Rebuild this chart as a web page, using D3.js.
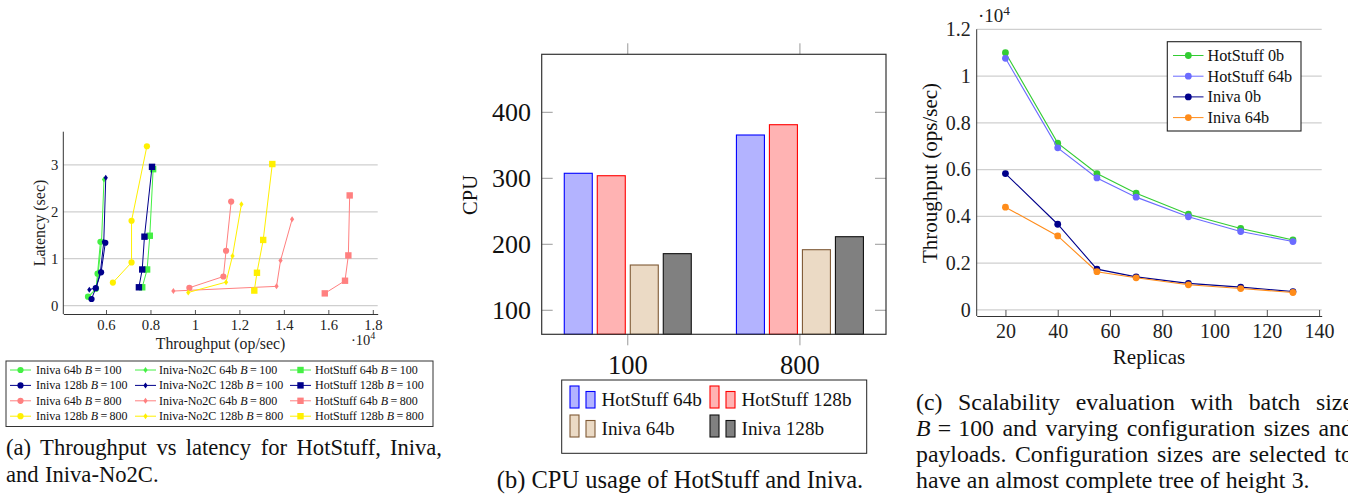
<!DOCTYPE html>
<html>
<head>
<meta charset="utf-8">
<script src="https://cdn.jsdelivr.net/npm/d3@7"></script>
<style>
  body { margin: 0; background: #fff; }
  svg { display: block; }
  text { font-family: "Liberation Serif", "Times New Roman", "DejaVu Serif", serif; }
</style>
</head>
<body>
<svg id="fig" width="1348" height="495"></svg>
<script>
// ---- (a) throughput vs latency, throughput in 10^4 op/sec, latency in sec
const iniva64_100    = [[0.519,0.19],[0.555,0.36],[0.562,0.68],[0.575,1.36]];
const no2c64_100     = [[0.522,0.18],[0.558,0.37],[0.565,0.70],[0.580,1.37],[0.591,2.69]];
const hot64_100      = [[0.763,0.39],[0.785,0.77],[0.797,1.49],[0.812,2.91]];
const iniva128_100   = [[0.535,0.14],[0.554,0.37],[0.578,0.71],[0.597,1.34]];
const no2c128_100    = [[0.525,0.34],[0.556,0.38],[0.575,0.72],[0.590,1.36],[0.599,2.73]];
const hot128_100     = [[0.748,0.39],[0.763,0.77],[0.773,1.47],[0.807,2.96]];
const iniva64_800    = [[0.975,0.38],[1.128,0.62],[1.140,1.17],[1.163,2.22]];
const no2c64_800     = [[0.903,0.31],[1.367,0.41],[1.385,0.96],[1.437,1.84]];
const hot64_800      = [[1.584,0.26],[1.675,0.53],[1.690,1.07],[1.696,2.35]];
const iniva128_800   = [[0.631,0.49],[0.715,0.92],[0.715,1.81],[0.784,3.40]];
const no2c128_800    = [[0.970,0.28],[1.140,0.50],[1.169,1.06],[1.209,2.16]];
const hot128_800     = [[1.267,0.32],[1.279,0.70],[1.307,1.40],[1.348,3.02]];
const latNames  = ["Iniva 64b", "Iniva-No2C 64b", "HotStuff 64b",
                   "Iniva 128b", "Iniva-No2C 128b", "HotStuff 128b",
                   "Iniva 64b", "Iniva-No2C 64b", "HotStuff 64b",
                   "Iniva 128b", "Iniva-No2C 128b", "HotStuff 128b"];
const latBatch  = [100,100,100,100,100,100,800,800,800,800,800,800];
const latData   = [iniva64_100, no2c64_100, hot64_100, iniva128_100, no2c128_100, hot128_100,
                   iniva64_800, no2c64_800, hot64_800, iniva128_800, no2c128_800, hot128_800];
const latXTicks = [0.6, 0.8, 1, 1.2, 1.4, 1.6, 1.8];
const latYTicks = [0, 1, 2, 3];

// ---- (b) CPU usage
const cpuGroups = ["100", "800"];
const cpuSeries = ["HotStuff 64b", "HotStuff 128b", "Iniva 64b", "Iniva 128b"];
const cpu100    = [307.6, 303.9, 168.6, 185.8];
const cpu800    = [365.6, 381.2, 191.8, 211.5];
const cpuYTicks = [100, 200, 300, 400];

// ---- (c) scalability
const replicas   = [20, 40, 55, 70, 90, 110, 130];
const hot0b      = [1.100, 0.713, 0.583, 0.499, 0.409, 0.348, 0.299];
const hot64b     = [1.076, 0.693, 0.564, 0.482, 0.398, 0.335, 0.292];
const iniva0b    = [0.583, 0.366, 0.174, 0.141, 0.113, 0.097, 0.078];
const iniva64b   = [0.439, 0.316, 0.163, 0.137, 0.107, 0.091, 0.074];
const scaleNames = ["HotStuff 0b", "HotStuff 64b", "Iniva 0b", "Iniva 64b"];
const scaleXTicks = [20, 40, 60, 80, 100, 120, 140];
const scaleYTicks = [0, 0.2, 0.4, 0.6, 0.8, 1, 1.2];

const svg = d3.select("#fig");
svg.append("rect").attr("width", 1348).attr("height", 495).attr("fill", "white");

const gridCol = "#cfcfcf", axisCol = "#333";

function marker(g, shape, x, y, col, s) {
  if (shape === "circle") {
    g.append("circle").attr("cx", x).attr("cy", y).attr("r", s).attr("fill", col);
  } else if (shape === "square") {
    g.append("rect").attr("x", x - s).attr("y", y - s).attr("width", 2 * s).attr("height", 2 * s).attr("fill", col);
  } else {
    g.append("path").attr("d", `M${x},${y - s}L${x + s * 0.7},${y}L${x},${y + s}L${x - s * 0.7},${y}Z`).attr("fill", col);
  }
}

function tenPow(g, x, y, size) {
  const t = g.append("text").attr("x", x).attr("y", y).attr("font-size", size).attr("fill", "#222");
  t.append("tspan").text("\u00b710");
  t.append("tspan").attr("dy", -size * 0.38).attr("font-size", size * 0.7).text("4");
}

// justified line of words (each word: array of [text, italic, dx in em])
function justifyLine(g, words, x0, x1, y, size, justify) {
  const nodes = words.map(w => {
    const t = g.append("text").attr("y", y).attr("font-size", size).attr("fill", "#111");
    w.forEach(p => t.append("tspan").attr("font-style", p[1] ? "italic" : "normal")
      .attr("dx", p[2] ? p[2] * size : null).text(p[0]));
    return t;
  });
  const widths = nodes.map(n => n.node().getBBox().width);
  const total = d3.sum(widths);
  const gap = justify ? (x1 - x0 - total) / (words.length - 1) : size * 0.25;
  let x = x0;
  nodes.forEach((n, i) => { n.attr("x", x); x += widths[i] + gap; });
}
function words(str) { return str.split(" ").map(w => [[w, false]]); }

// =================== (a) ===================
(function () {
  const g = svg.append("g");
  const x = d3.scaleLinear().domain([0.408, 1.822]).range([63.3, 377.7]);
  const y = d3.scaleLinear().domain([-0.18, 3.71]).range([314, 131.7]);
  const colors = ["#44f044", "#44f044", "#44f044", "#00008b", "#00008b", "#00008b",
                  "#ff8080", "#ff8080", "#ff8080", "#fff000", "#fff000", "#fff000"];
  const shapes = ["circle", "diamond", "square"];
  const sizes = {circle: 3.1, diamond: 3, square: 3.2};

  g.selectAll(".grid").data(latYTicks).join("line")
    .attr("x1", x.range()[0]).attr("x2", x.range()[1])
    .attr("y1", d => y(d)).attr("y2", d => y(d))
    .attr("stroke", gridCol).attr("stroke-width", 1.3);

  const xa = g.append("g").attr("transform", `translate(0,${y.range()[0]})`)
    .call(d3.axisBottom(x).tickValues(latXTicks).tickFormat(d3.format("")).tickSizeInner(-4).tickSizeOuter(0).tickPadding(6));
  xa.select(".domain").attr("stroke", axisCol);
  xa.selectAll(".tick line").attr("stroke", "#555");
  xa.selectAll("text").attr("font-size", 14.7).attr("fill", "#222");

  const ya = g.append("g").attr("transform", `translate(${x.range()[0]},0)`)
    .call(d3.axisLeft(y).tickValues(latYTicks).tickFormat(d3.format("")).tickSize(0).tickPadding(5));
  ya.select(".domain").remove();
  ya.selectAll("text").attr("font-size", 14.7).attr("fill", "#222");
  g.append("line").attr("x1", x.range()[0]).attr("x2", x.range()[0])
    .attr("y1", y.range()[1]).attr("y2", y.range()[0]).attr("stroke", axisCol);

  const line = d3.line().x(d => x(d[0])).y(d => y(d[1]));
  latData.forEach((pts, i) => {
    const s = g.append("g");
    s.append("path").attr("d", line(pts)).attr("fill", "none").attr("stroke", colors[i]).attr("stroke-width", 1);
    const sh = shapes[i % 3];
    pts.forEach(p => marker(s, sh, x(p[0]), y(p[1]), colors[i], sizes[sh]));
  });

  g.append("text").attr("x", 220.5).attr("y", 348.5).attr("text-anchor", "middle")
    .attr("font-size", 15.8).attr("fill", "#222").text("Throughput (op/sec)");
  g.append("text").attr("transform", "translate(44.5,223) rotate(-90)").attr("text-anchor", "middle")
    .attr("font-size", 16).attr("fill", "#222").text("Latency (sec)");
  tenPow(g, 351, 345, 14.5);

  // legend
  const lg = g.append("g");
  lg.append("rect").attr("x", 6).attr("y", 361).attr("width", 427).attr("height", 65.5)
    .attr("fill", "white").attr("stroke", "#333").attr("stroke-width", 1);
  const colLine = [10, 135, 290], colText = [36, 159, 315];
  latNames.forEach((nm, i) => {
    const c = i % 3, r = Math.floor(i / 3);
    const yy = 370 + r * 15.4;
    lg.append("line").attr("x1", colLine[c]).attr("x2", colLine[c] + 21).attr("y1", yy).attr("y2", yy)
      .attr("stroke", colors[i]).attr("stroke-width", 1);
    marker(lg, shapes[c], colLine[c] + 10.5, yy, colors[i], sizes[shapes[c]]);
    const t = lg.append("text").attr("x", colText[c]).attr("y", yy + 4).attr("font-size", 12).attr("fill", "#111");
    t.append("tspan").text(nm + " ");
    t.append("tspan").attr("font-style", "italic").text("B");
    t.append("tspan").text("\u2009=\u2009" + latBatch[i]);
  });

  justifyLine(g, words("(a) Throughput vs latency for HotStuff, Iniva,"), 6, 442, 455, 22.6, true);
  justifyLine(g, words("and Iniva-No2C."), 6, 442, 482, 22.6, false);
})();

// =================== (b) ===================
(function () {
  const g = svg.append("g");
  const L = 541.7, R = 886, T = 54.3, B = 334.3;
  const x0 = d3.scaleBand().domain(cpuGroups).range([L, R]).padding(0);
  const x1 = d3.scaleBand().domain(cpuSeries).range([-63.5, 63.5]).paddingInner(5 / 33).paddingOuter(0);
  const y = d3.scaleLinear().domain([63.6, 487.9]).range([B, T]);
  const fills = ["#b3b3ff", "#ffb3b3", "#ebdac5", "#808080"];
  const strokes = ["#0000ff", "#ff0000", "#7f5a36", "#111111"];
  const vals = [cpu100, cpu800];

  cpuGroups.forEach((grp, gi) => {
    const cx = x0(grp) + x0.bandwidth() / 2;
    g.selectAll(null).data(vals[gi]).join("rect")
      .attr("x", (d, i) => cx + x1(cpuSeries[i]))
      .attr("y", d => y(d))
      .attr("width", x1.bandwidth())
      .attr("height", d => B - y(d))
      .attr("fill", (d, i) => fills[i])
      .attr("stroke", (d, i) => strokes[i]).attr("stroke-width", 1.1);
  });

  // y ticks inward on both sides
  cpuYTicks.forEach(v => {
    g.append("line").attr("x1", L).attr("x2", L + 11).attr("y1", y(v)).attr("y2", y(v)).attr("stroke", "#999");
    g.append("line").attr("x1", R - 11).attr("x2", R).attr("y1", y(v)).attr("y2", y(v)).attr("stroke", "#999");
    g.append("text").attr("x", 531).attr("y", y(v)).attr("dy", "0.35em").attr("text-anchor", "end")
      .attr("font-size", 26).attr("fill", "#111").text(v);
  });
  // x ticks outward top and bottom
  cpuGroups.forEach(grp => {
    const cx = x0(grp) + x0.bandwidth() / 2;
    g.append("line").attr("x1", cx).attr("x2", cx).attr("y1", T - 11).attr("y2", T).attr("stroke", "#999");
    g.append("line").attr("x1", cx).attr("x2", cx).attr("y1", B).attr("y2", B + 11).attr("stroke", "#999");
    g.append("text").attr("x", cx).attr("y", 374).attr("text-anchor", "middle")
      .attr("font-size", 26.5).attr("fill", "#111").text(grp);
  });
  g.append("rect").attr("x", L).attr("y", T).attr("width", R - L).attr("height", B - T)
    .attr("fill", "none").attr("stroke", axisCol).attr("stroke-width", 1.2);
  g.append("text").attr("transform", "translate(477,195) rotate(-90)").attr("text-anchor", "middle")
    .attr("font-size", 20.5).attr("fill", "#111").text("CPU");

  // legend
  g.append("rect").attr("x", 561.7).attr("y", 380).attr("width", 305).attr("height", 73.3)
    .attr("fill", "white").attr("stroke", "#222").attr("stroke-width", 1);
  const lx = [570, 710], ly = [399.5, 428.5];
  cpuSeries.forEach((nm, i) => {
    const c = i % 2, r = Math.floor(i / 2);
    const bx = lx[c], by = ly[r];
    g.append("rect").attr("x", bx).attr("y", by - 13.5).attr("width", 9).attr("height", 22)
      .attr("fill", fills[i]).attr("stroke", strokes[i]).attr("stroke-width", 1.1);
    g.append("rect").attr("x", bx + 16).attr("y", by - 8).attr("width", 9).attr("height", 16.5)
      .attr("fill", fills[i]).attr("stroke", strokes[i]).attr("stroke-width", 1.1);
    g.append("text").attr("x", bx + 31.5).attr("y", by + 6).attr("font-size", 19.2).attr("fill", "#111").text(nm);
  });

  g.append("text").attr("x", 680).attr("y", 488).attr("text-anchor", "middle")
    .attr("font-size", 24.5).attr("fill", "#111").text("(b) CPU usage of HotStuff and Iniva.");
})();

// =================== (c) ===================
(function () {
  const g = svg.append("g");
  const x = d3.scaleLinear().domain([9, 141]).range([976.7, 1321.7]);
  const y = d3.scaleLinear().domain([-0.0265, 1.2]).range([316, 29.3]);
  const colors = ["#33cc33", "#6b6bff", "#00008b", "#ff8c1a"];
  const series = [hot0b, hot64b, iniva0b, iniva64b];

  g.selectAll(".grid").data(scaleYTicks).join("line")
    .attr("x1", x.range()[0]).attr("x2", x.range()[1])
    .attr("y1", d => y(d)).attr("y2", d => y(d))
    .attr("stroke", gridCol).attr("stroke-width", 1.3);

  const xa = g.append("g").attr("transform", `translate(0,${y.range()[0]})`)
    .call(d3.axisBottom(x).tickValues(scaleXTicks).tickSizeInner(-6).tickSizeOuter(0).tickPadding(8));
  xa.select(".domain").attr("stroke", axisCol);
  xa.selectAll(".tick line").attr("stroke", "#555");
  xa.selectAll("text").attr("font-size", 20).attr("fill", "#222");

  const ya = g.append("g").attr("transform", `translate(${x.range()[0]},0)`)
    .call(d3.axisLeft(y).tickValues(scaleYTicks).tickFormat(d3.format("")).tickSize(0).tickPadding(6));
  ya.select(".domain").remove();
  ya.selectAll("text").attr("font-size", 20).attr("fill", "#222");
  g.append("line").attr("x1", x.range()[0]).attr("x2", x.range()[0])
    .attr("y1", y.range()[1]).attr("y2", y.range()[0]).attr("stroke", axisCol);

  const line = d3.line().x((d, i) => x(replicas[i])).y(d => y(d));
  series.forEach((vals, i) => {
    g.append("path").attr("d", line(vals)).attr("fill", "none").attr("stroke", colors[i]).attr("stroke-width", 1.1);
    g.selectAll(null).data(vals).join("circle")
      .attr("cx", (d, j) => x(replicas[j])).attr("cy", d => y(d)).attr("r", 3.4).attr("fill", colors[i]);
  });

  tenPow(g, 978, 22, 19);
  g.append("text").attr("x", 1149).attr("y", 364).attr("text-anchor", "middle")
    .attr("font-size", 21).attr("fill", "#111").text("Replicas");
  g.append("text").attr("transform", "translate(937,173) rotate(-90)").attr("text-anchor", "middle")
    .attr("font-size", 21).attr("fill", "#111").text("Throughput (ops/sec)");

  // legend
  g.append("rect").attr("x", 1167.3).attr("y", 41.7).attr("width", 133.7).attr("height", 89.3)
    .attr("fill", "white").attr("stroke", "#222").attr("stroke-width", 1.1);
  scaleNames.forEach((nm, i) => {
    const yy = 55.5 + i * 20.7;
    g.append("line").attr("x1", 1173).attr("x2", 1203.5).attr("y1", yy).attr("y2", yy).attr("stroke", colors[i]);
    g.append("circle").attr("cx", 1188.3).attr("cy", yy).attr("r", 3.4).attr("fill", colors[i]);
    g.append("text").attr("x", 1207.5).attr("y", yy + 5.5).attr("font-size", 16.2).attr("fill", "#111").text(nm);
  });

  // justified caption, clipped by the page edge as in the source
  const X0 = 916, X1 = 1353, cs = 23.8;
  justifyLine(g, words("(c) Scalability evaluation with batch size"), X0, X1, 409.5, cs, true);
  justifyLine(g, [[["B", true], ["=", false, 0.3], ["100", false, 0.3]]].concat(words("and varying configuration sizes and")), X0, X1, 435.5, cs, true);
  justifyLine(g, words("payloads. Configuration sizes are selected to"), X0, X1, 461.5, cs, true);
  justifyLine(g, words("have an almost complete tree of height 3."), X0, X1, 487.5, cs, false);
})();
</script>
</body>
</html>
